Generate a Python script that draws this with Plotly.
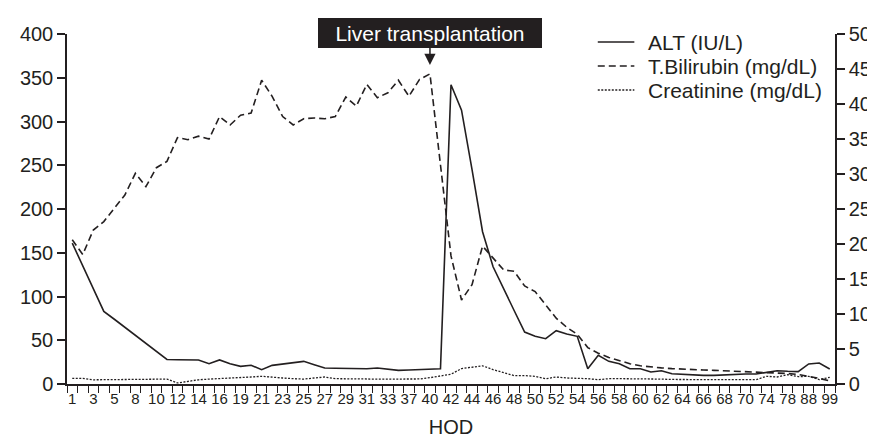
import plotly.graph_objects as go

# ---- data ----
hod = [1, 2, 3, 4, 5, 6, 8, 9, 10, 11, 12, 13, 14, 15, 16, 18, 19, 20, 21, 22, 23, 24, 25, 26,
       27, 28, 29, 30, 31, 32, 33, 35, 37, 38, 40, 41, 42, 43, 44, 45, 46, 47, 48, 49, 50, 51,
       52, 53, 54, 55, 56, 57, 58, 59, 60, 61, 62, 63, 64, 65, 66, 67, 68, 69, 70, 72, 74, 76,
       78, 84, 88, 94, 99]

alt = [161, 135, 109, 83, 74, 65, 55, 46, 37, 28, 27.7, 27.6, 27.5, 23.2, 27.5, 23.2, 20.2, 21.4,
       16.4, 21.3, 22.9, 24, 25.9, 22.1, 18.3, 18, 17.8, 17.7, 17.5, 18.3, 17.1, 15.6, 16, 16.4,
       16.8, 17.5, 342, 313, 245, 174, 134, 108, 84, 59.4, 54.5, 51.8, 60.9, 57.1, 54.5, 17.5,
       32.8, 25.9, 23.2, 17.5, 17.5, 13.7, 15.2, 11.8, 11, 10.7, 9.9, 9.9, 10.5, 11.4, 11.4,
       11.4, 13.7, 15.2, 14.5, 14.1, 22.9, 24, 17.1]

tbil = [20.6, 18.5, 22.0, 23.2, 25.1, 27.0, 30.1, 28.2, 30.9, 31.8, 35.2, 34.9, 35.4, 35.0, 38.2,
        37.0, 38.4, 38.7, 43.4, 41.1, 38.2, 37.0, 37.9, 38.0, 37.9, 38.2, 41.0, 39.7, 42.8, 40.9,
        41.6, 43.4, 41.1, 43.5, 44.3, 31.0, 18.3, 12.0, 14.2, 19.7, 18.0, 16.3, 16.1, 14.0, 13.2,
        11.3, 9.4, 8.1, 7.1, 5.2, 4.4, 3.8, 3.3, 2.9, 2.6, 2.4, 2.3, 2.2, 2.1, 2.05, 2.0, 1.95,
        1.9, 1.85, 1.8, 1.75, 1.7, 1.6, 1.5, 1.35, 1.1, 0.8, 0.45]

creat = [0.8, 0.8, 0.6, 0.6, 0.6, 0.6, 0.6, 0.65, 0.7, 0.7, 0.15, 0.4, 0.6, 0.7, 0.75, 0.8, 0.9,
         1.0, 1.1, 0.95, 0.86, 0.76, 0.7, 0.86, 1.0, 0.76, 0.72, 0.7, 0.7, 0.7, 0.7, 0.7, 0.7,
         0.72, 0.9, 1.1, 1.4, 2.2, 2.45, 2.6, 2.05, 1.57, 1.2, 1.2, 1.1, 0.75, 1.0, 0.86, 0.86,
         0.76, 0.62, 0.76, 0.76, 0.76, 0.76, 0.7, 0.7, 0.65, 0.62, 0.62, 0.62, 0.62, 0.62, 0.62,
         0.62, 0.62, 1.1, 1.0, 1.33, 1.05, 1.1, 0.62, 0.95]

tick_labels = hod[::2]
series_names = ["ALT (IU/L)", "T.Bilirubin (mg/dL)", "Creatinine (mg/dL)"]
event_day = 40
event_text = "Liver transplantation"

# ---- styling ----
INK = "#231f20"
FONT = "Liberation Sans, Arial, sans-serif"
W, H = 875, 439
ML, MR, MT, MB = 58, 40, 26, 63
PW, PH = W - ML - MR, H - MT - MB
styles = [dict(color=INK, width=1.6),
          dict(color=INK, width=1.6, dash="7px,4px"),
          dict(color=INK, width=1.3, dash="2px,1.5px")]

idx = list(range(len(hod)))
ev_i = hod.index(event_day)

fig = go.Figure()
fig.add_trace(go.Scatter(x=idx, y=alt, name=series_names[0], mode="lines", line=styles[0]))
fig.add_trace(go.Scatter(x=idx, y=tbil, name=series_names[1], mode="lines", yaxis="y2",
                         line=styles[1]))
fig.add_trace(go.Scatter(x=idx, y=creat, name=series_names[2], mode="lines", yaxis="y2",
                         line=styles[2]))

# event marker (box + arrow) pointing at the transplantation day
fig.add_annotation(x=ev_i, y=364.6, xref="x", yref="y", text=event_text,
                   showarrow=True, ax=0, ay=-32, arrowhead=2, arrowsize=1.5, arrowwidth=1.5,
                   arrowcolor=INK, bgcolor=INK, bordercolor=INK, borderpad=0,
                   width=222, height=28,
                   font=dict(family=FONT, size=21, color="white"))

# legend drawn by hand (tighter spacing than plotly's built-in legend)
def px_x(p):
    return (p - ML) / PW


def px_y(p):
    return (H - MB - p) / PH


for k, (name, st) in enumerate(zip(series_names, styles)):
    yy = px_y(34 + 24 * k)
    fig.add_shape(type="line", xref="paper", yref="paper", x0=px_x(595), x1=px_x(632),
                  y0=yy, y1=yy, line=dict(color=st["color"], width=st["width"],
                                          dash=st.get("dash", "solid")))
    fig.add_annotation(xref="paper", yref="paper", x=px_x(644), y=yy, text=name,
                       showarrow=False, xanchor="left", yanchor="middle",
                       font=dict(family=FONT, size=21, color=INK))

fig.update_layout(
    width=W, height=H,
    margin=dict(l=ML, r=MR, t=MT, b=MB),
    paper_bgcolor="white", plot_bgcolor="white",
    font=dict(family=FONT, color=INK, size=20),
    showlegend=False,
    xaxis=dict(range=[-0.5, len(hod) - 0.5], tickmode="array",
               tickvals=idx[::2], ticktext=[str(v) for v in tick_labels],
               ticks="", showgrid=False, zeroline=False,
               showline=True, linecolor=INK, linewidth=1.5,
               tickfont=dict(size=15, family=FONT, color=INK),
               minor=dict(tickmode="linear", tick0=-0.5, dtick=1, ticks="outside",
                          ticklen=7, tickwidth=1.2, tickcolor=INK, showgrid=False),
               title=dict(text="HOD", font=dict(size=20, family=FONT, color=INK), standoff=14)),
    yaxis=dict(range=[0, 400], dtick=50, ticks="outside", ticklen=8, tickwidth=1.5,
               tickcolor=INK, showgrid=False, zeroline=False, showline=True,
               linecolor=INK, linewidth=1.5,
               tickfont=dict(size=20, family=FONT, color=INK)),
    yaxis2=dict(range=[0, 50], dtick=5, overlaying="y", side="right", ticks="outside",
                ticklen=8, tickwidth=1.5, tickcolor=INK, showgrid=False, zeroline=False,
                showline=True, linecolor=INK, linewidth=1.5,
                tickfont=dict(size=20, family=FONT, color=INK)),
)

fig.write_html("out.html")
